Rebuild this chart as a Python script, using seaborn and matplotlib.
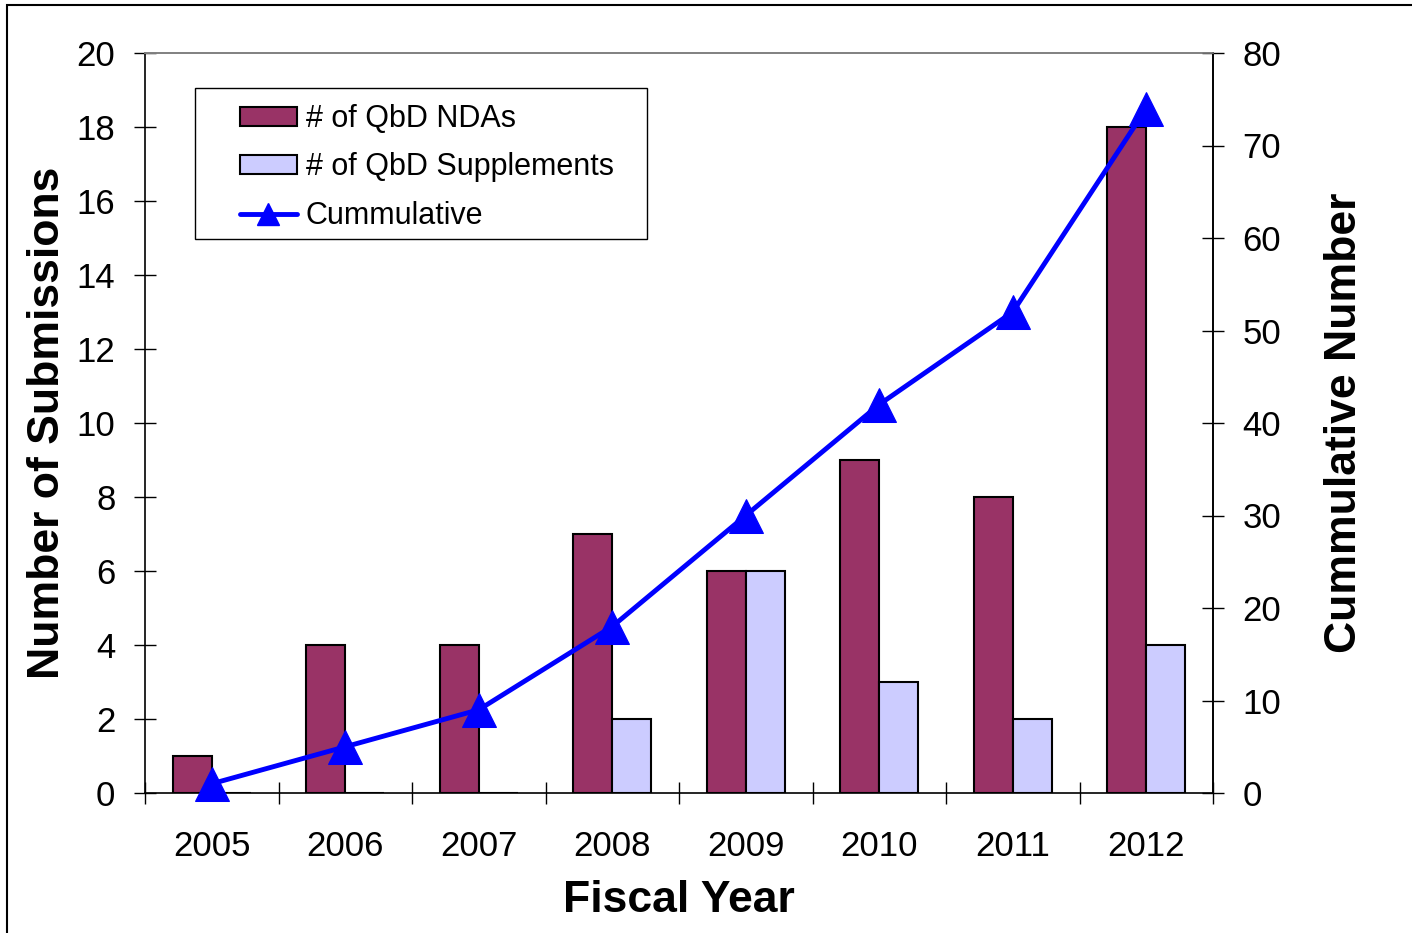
import matplotlib
matplotlib.use("Agg")
import matplotlib.pyplot as plt
from matplotlib.patches import Rectangle, Patch
from matplotlib.lines import Line2D
from matplotlib.ticker import FixedLocator, MultipleLocator
import numpy as np
import pandas as pd
import seaborn as sns

# Data
years = ["2005", "2006", "2007", "2008", "2009", "2010", "2011", "2012"]
qbd_ndas = [1, 4, 4, 7, 6, 9, 8, 18]
qbd_supplements = [0, 0, 0, 2, 6, 3, 2, 4]
cumulative = [1, 5, 9, 18, 30, 42, 52, 74]
series_names = ["# of QbD NDAs", "# of QbD Supplements"]
line_name = "Cummulative"

sns.set_theme(style="ticks")
plt.rcParams["font.family"] = ["Liberation Sans", "DejaVu Sans"]
plt.rcParams["text.color"] = "black"
plt.rcParams["axes.labelcolor"] = "black"
plt.rcParams["xtick.color"] = "black"
plt.rcParams["ytick.color"] = "black"

W, H = 1412, 933
fig = plt.figure(figsize=(W / 100, H / 100), dpi=100)
fig.patch.set_facecolor("white")

# Outer frame of the figure (left and top edges visible)
fig.add_artist(Rectangle((7 / W, -0.05), 1.2, 1 - 5 / H + 0.05, transform=fig.transFigure,
                         fill=False, edgecolor="black", linewidth=1.5))

L, R, T, B = 145, 1213, 53, 793
ax = fig.add_axes([L / W, 1 - B / H, (R - L) / W, (B - T) / H])

df = pd.DataFrame({
    "Year": years * 2,
    "Count": qbd_ndas + qbd_supplements,
    "Series": [series_names[0]] * len(years) + [series_names[1]] * len(years),
})
bar_colors = ["#993366", "#CCCCFF"]
sns.barplot(data=df, x="Year", y="Count", hue="Series", order=years, hue_order=series_names,
            palette=bar_colors, edgecolor="black", linewidth=1.5, width=0.584,
            saturation=1, ax=ax, legend=False)

ax.set_xlim(-0.5, len(years) - 0.5)
ax.set_ylim(0, 20)
ax.yaxis.set_major_locator(MultipleLocator(2))
ax.set_xticks(range(len(years)))
ax.set_xticklabels(years)
ax.xaxis.set_minor_locator(FixedLocator(np.arange(-0.5, len(years), 1.0)))
ax.tick_params(axis="x", which="major", length=0, pad=27, labelsize=25, colors="black")
ax.tick_params(axis="x", which="minor", direction="inout", length=16, width=1, color="black")
ax.tick_params(axis="y", which="major", direction="inout", length=16.5, width=1, pad=13,
               labelsize=25, colors="black")

ax.set_xlabel("Fiscal Year", fontsize=32, fontweight="bold", labelpad=12)
ax.set_ylabel("Number of Submissions", fontsize=32, fontweight="bold", labelpad=6)

for side in ["left", "bottom", "right"]:
    ax.spines[side].set_color("black")
    ax.spines[side].set_linewidth(1.2)
ax.spines["top"].set_color("#808080")
ax.spines["top"].set_linewidth(1.2)

# Cumulative line on secondary axis
ax2 = ax.twinx()
sns.lineplot(x=np.arange(len(years)), y=cumulative, ax=ax2, color="#0000FF", linewidth=3.5,
             marker="^", markersize=24, markeredgecolor="#0000FF", clip_on=False,
             legend=False)
ax2.set_ylim(0, 80)
ax2.yaxis.set_major_locator(MultipleLocator(10))
ax2.tick_params(axis="y", which="major", direction="inout", length=16.5, width=1, pad=13,
                labelsize=25, colors="black")
ax2.set_ylabel("Cummulative Number", fontsize=32, fontweight="bold", labelpad=31)
for side in ["left", "bottom"]:
    ax2.spines[side].set_visible(False)
ax2.spines["right"].set_color("black")
ax2.spines["right"].set_linewidth(1.2)
ax2.spines["top"].set_color("#808080")
ax2.spines["top"].set_linewidth(1.2)

# Legend box
legend_box = Rectangle((195 / W, 1 - 239 / H), (647 - 195) / W, (239 - 88) / H,
                       transform=fig.transFigure, facecolor="white", edgecolor="black",
                       linewidth=1.0, zorder=5)
fig.add_artist(legend_box)

handles = [
    Patch(facecolor=bar_colors[0], edgecolor="black", linewidth=1.5, label=series_names[0]),
    Patch(facecolor=bar_colors[1], edgecolor="black", linewidth=1.5, label=series_names[1]),
    Line2D([0], [0], color="#0000FF", linewidth=3.5, marker="^", markersize=16, label=line_name),
]
leg = fig.legend(handles=handles, loc="upper left",
                 bbox_to_anchor=(234 / W, 1 - 98 / H),
                 borderaxespad=0, fontsize=22, frameon=False,
                 handlelength=1.85, handleheight=0.6, handletextpad=0.3,
                 labelspacing=0.6, borderpad=0.2)
leg.set_zorder(6)

fig.savefig("out.png", dpi=100, facecolor="white")
